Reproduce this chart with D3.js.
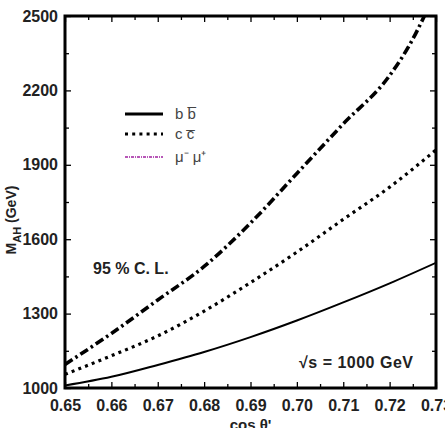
<!DOCTYPE html>
<html><head><meta charset="utf-8">
<script src="https://cdn.jsdelivr.net/npm/d3@7/dist/d3.min.js"></script>
<style>body{margin:0;background:#fff}svg{display:block}</style>
</head><body>
<script>
const cosTheta = [0.65, 0.66, 0.67, 0.68, 0.69, 0.70, 0.71, 0.72, 0.73];
const bbValues = [1010, 1045, 1093, 1145, 1205, 1272, 1345, 1422, 1505];
const ccValues = [1055, 1130, 1210, 1310, 1425, 1548, 1680, 1810, 1960];
const mumuX = [0.65, 0.66, 0.67, 0.68, 0.69, 0.70, 0.71, 0.72, 0.7245, 0.7275];
const mumuValues = [1095, 1220, 1355, 1490, 1665, 1865, 2065, 2260, 2390, 2500];
const xTicks = [0.65, 0.66, 0.67, 0.68, 0.69, 0.70, 0.71, 0.72, 0.73];
const yTicks = [1000, 1300, 1600, 1900, 2200, 2500];
const legendLabels = ["b b\u0305", "c c\u0305", "\u03bc\u207b \u03bc\u207a"];

const W = 445, H = 428;
const m = {l: 65, r: 9, t: 16, b: 40};
const svg = d3.select("body").append("svg").attr("width", W).attr("height", H);
const x = d3.scaleLinear().domain([0.65, 0.73]).range([m.l, W - m.r]);
const y = d3.scaleLinear().domain([1000, 2500]).range([H - m.b, m.t]);
const font = "'Liberation Sans', Arial, sans-serif";

svg.append("clipPath").attr("id", "c").append("rect")
  .attr("x", m.l).attr("y", m.t).attr("width", x.range()[1] - m.l).attr("height", y.range()[0] - m.t);

const line = d3.line().x(d => x(d[0])).y(d => y(d[1])).curve(d3.curveMonotoneX);
const g = svg.append("g").attr("clip-path", "url(#c)");
g.append("path").datum(cosTheta.map((c, i) => [c, bbValues[i]]))
  .attr("d", line).attr("fill", "none").attr("stroke", "#000").attr("stroke-width", 2);
g.append("path").datum(cosTheta.map((c, i) => [c, ccValues[i]]))
  .attr("d", line).attr("fill", "none").attr("stroke", "#000").attr("stroke-width", 3.2)
  .attr("stroke-dasharray", "3,4.2");
g.append("path").datum(mumuX.map((c, i) => [c, mumuValues[i]]))
  .attr("d", line).attr("fill", "none").attr("stroke", "#000").attr("stroke-width", 3.6)
  .attr("stroke-dasharray", "9,3.5,2.5,3.5");

// axes (ticks inward)
const minorX = d3.range(0.655, 0.73, 0.01);
const minorY = d3.range(1150, 2500, 300);
const axB = d3.axisBottom(x).tickValues(xTicks).tickSize(-6).tickFormat(d3.format(".2f")).tickPadding(12);
const axT = d3.axisTop(x).tickValues(xTicks).tickSize(-6).tickFormat("");
const axL = d3.axisLeft(y).tickValues(yTicks).tickSize(-6).tickFormat(d3.format("d")).tickPadding(7);
const axR = d3.axisRight(y).tickValues(yTicks).tickSize(-6).tickFormat("");
function styleAx(sel) {
  sel.select(".domain").remove();
  sel.selectAll("line").attr("stroke", "#000").attr("stroke-width", 1.3);
  sel.selectAll("text").attr("font-family", font).attr("font-weight", "bold").attr("font-size", 16).attr("fill", "#222");
}
svg.append("g").attr("transform", `translate(0,${y(1000)})`).call(axB).call(styleAx);
svg.append("g").attr("transform", `translate(0,${y(2500)})`).call(axT).call(styleAx);
svg.append("g").attr("transform", `translate(${x(0.65)},0)`).call(axL).call(styleAx);
svg.append("g").attr("transform", `translate(${x(0.73)},0)`).call(axR).call(styleAx);
// minor ticks
svg.append("g").attr("transform", `translate(0,${y(1000)})`).call(d3.axisBottom(x).tickValues(minorX).tickSize(-4).tickFormat("")).call(styleAx);
svg.append("g").attr("transform", `translate(0,${y(2500)})`).call(d3.axisTop(x).tickValues(minorX).tickSize(-4).tickFormat("")).call(styleAx);
svg.append("g").attr("transform", `translate(${x(0.65)},0)`).call(d3.axisLeft(y).tickValues(minorY).tickSize(-4).tickFormat("")).call(styleAx);
svg.append("g").attr("transform", `translate(${x(0.73)},0)`).call(d3.axisRight(y).tickValues(minorY).tickSize(-4).tickFormat("")).call(styleAx);

// frame
svg.append("rect").attr("x", x(0.65)).attr("y", y(2500)).attr("width", x(0.73) - x(0.65)).attr("height", y(1000) - y(2500))
  .attr("fill", "none").attr("stroke", "#000").attr("stroke-width", 3);

// axis titles
const yl = svg.append("text").attr("transform", `translate(16,220) rotate(-90)`)
  .attr("text-anchor", "middle").attr("font-family", font).attr("font-weight", "bold").attr("font-size", 14).attr("fill", "#222");
yl.append("tspan").text("M");
yl.append("tspan").attr("font-size", 11).attr("dy", 5).text("AH");
yl.append("tspan").attr("dy", -5).text(" (GeV)");
const xl = svg.append("text").attr("x", (x(0.65) + x(0.73)) / 2).attr("y", H + 2)
  .attr("text-anchor", "middle").attr("font-family", font).attr("font-weight", "bold").attr("font-size", 15).attr("fill", "#222");
xl.text("cos \u03b8'");

// annotations
svg.append("text").attr("x", 93).attr("y", 274).attr("font-family", font).attr("font-weight", "bold")
  .attr("font-size", 16).attr("fill", "#222").text("95 % C. L.");
svg.append("text").attr("x", 299).attr("y", 368).attr("font-family", font).attr("font-weight", "bold")
  .attr("font-size", 16).attr("letter-spacing", 0.5).attr("fill", "#222").text("\u221as = 1000 GeV");

// legend
const leg = [
  {y: 114, w: 3.2, dash: null, c: "#000"},
  {y: 134, w: 3.2, dash: "3,4.2", c: "#000"},
  {y: 157, w: 1.5, dash: "3,1,1,1", c: "#a020a0"}
];
leg.forEach((d, i) => {
  svg.append("line").attr("x1", 125).attr("x2", 163).attr("y1", d.y).attr("y2", d.y)
    .attr("stroke", d.c).attr("stroke-width", d.w).attr("stroke-dasharray", d.dash);
  svg.append("text").attr("x", 175).attr("y", d.y + 5).attr("font-family", font)
    .attr("font-size", 15).attr("fill", "#444").text(legendLabels[i]);
});
</script>
</body></html>
